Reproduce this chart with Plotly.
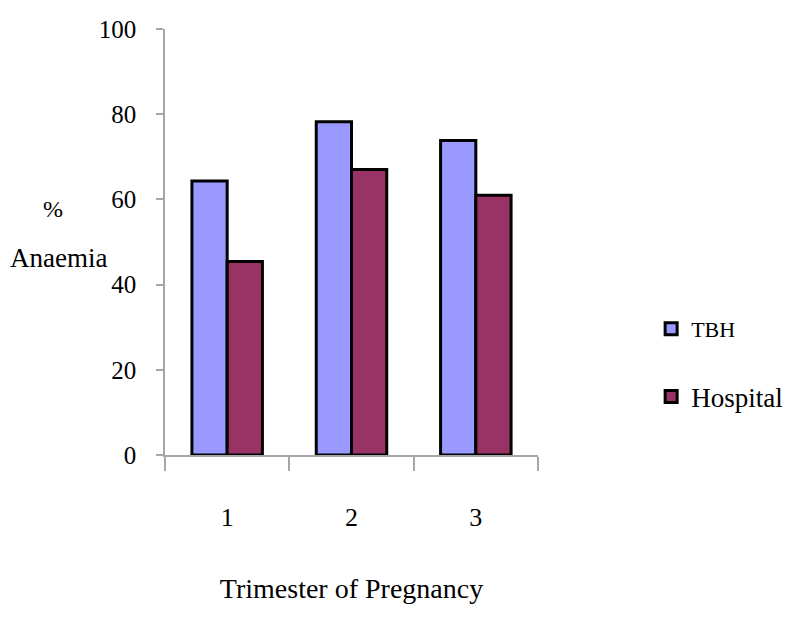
import plotly.graph_objects as go

categories = ["1", "2", "3"]
tbh_values = [64.3, 78.2, 73.8]
hospital_values = [45.4, 67.0, 61.0]
y_ticks = [0, 20, 40, 60, 80, 100]

SERIF = "'Liberation Serif', 'Times New Roman', serif"

# The page body adds an 8px offset; layout numbers below are in figure pixels.
OFF = 8
W, H = 794, 618
PL, PR, PT, PB = 165 - OFF, W - (538 - OFF), 29 - OFF, H - (455 - OFF)

fig = go.Figure()
fig.add_trace(go.Bar(
    x=categories, y=tbh_values, name="TBH",
    marker=dict(color="#9999FF", line=dict(color="black", width=3)),
    legend="legend",
))
fig.add_trace(go.Bar(
    x=categories, y=hospital_values, name="Hospital",
    marker=dict(color="#993366", line=dict(color="black", width=3)),
    legend="legend2",
))

pw, ph = W - PL - PR, H - PT - PB


def px_to_paper(xp, yp):
    return (xp - OFF - PL) / pw, 1 - (yp - OFF - PT) / ph


ax_pct = px_to_paper(53, 209)
ax_an = px_to_paper(59, 258)

fig.update_layout(
    width=W, height=H,
    margin=dict(l=PL, r=PR, t=PT, b=PB, autoexpand=False),
    paper_bgcolor="white", plot_bgcolor="white",
    font=dict(family=SERIF, size=25, color="black"),
    barmode="group", bargap=0.433, bargroupgap=0,
    showlegend=True,
    legend=dict(
        x=0.81, y=0.4806, xref="container", yref="container",
        xanchor="left", yanchor="middle",
        font=dict(family=SERIF, size=22, color="black"),
        bgcolor="rgba(0,0,0,0)", borderwidth=0,
    ),
    legend2=dict(
        x=0.81, y=0.3706, xref="container", yref="container",
        xanchor="left", yanchor="middle",
        font=dict(family=SERIF, size=27, color="black"),
        bgcolor="rgba(0,0,0,0)", borderwidth=0,
    ),
    annotations=[
        dict(text="%", x=ax_pct[0], y=ax_pct[1], xref="paper", yref="paper",
             xanchor="center", yanchor="middle", showarrow=False,
             font=dict(family=SERIF, size=24, color="black")),
        dict(text="Anaemia", x=ax_an[0], y=ax_an[1], xref="paper", yref="paper",
             xanchor="center", yanchor="middle", showarrow=False,
             font=dict(family=SERIF, size=27, color="black")),
    ],
)

fig.update_xaxes(
    type="category",
    showline=True, linecolor="#a6a6a6", linewidth=1.5,
    ticks="outside", tickson="boundaries", ticklen=14, tickcolor="#a6a6a6", tickwidth=1.5,
    ticklabelstandoff=38,
    tickfont=dict(family=SERIF, size=26),
    showgrid=False, zeroline=False,
    title=dict(text="Trimester of Pregnancy", standoff=47,
               font=dict(family=SERIF, size=28)),
)
fig.update_yaxes(
    range=[0, 100], tickvals=y_ticks,
    showline=True, linecolor="#a6a6a6", linewidth=1.5,
    ticks="outside", ticklen=7, tickcolor="#a6a6a6", tickwidth=1.5,
    ticklabelstandoff=15,
    tickfont=dict(family=SERIF, size=25),
    showgrid=False, zeroline=False,
)

fig.write_html("out.html")
